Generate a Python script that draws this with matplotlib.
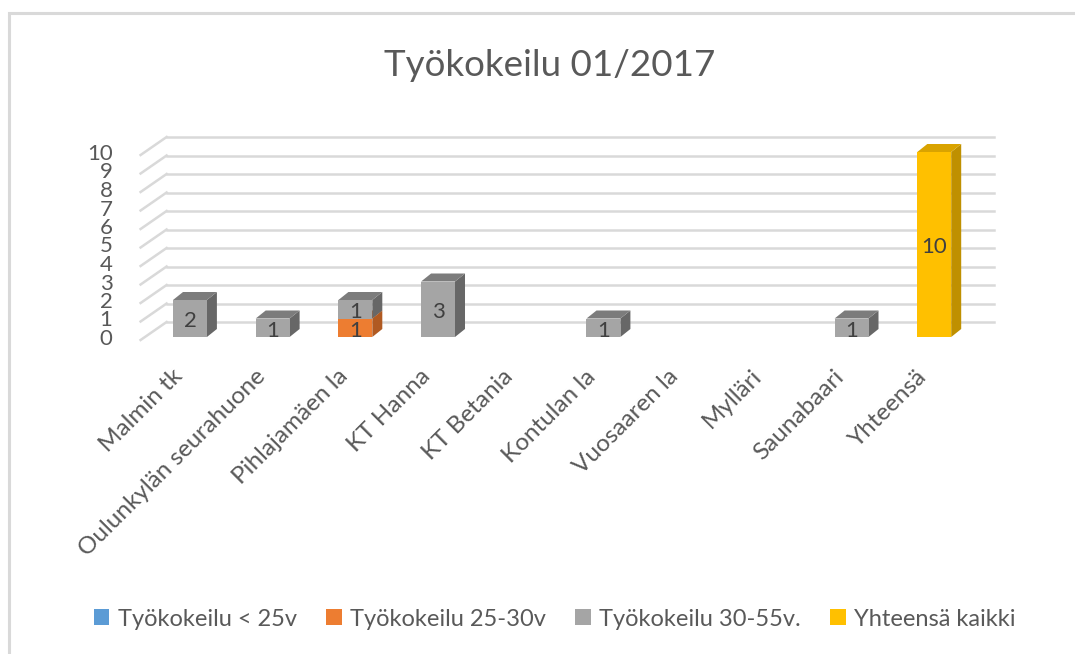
import matplotlib
matplotlib.use("Agg")
import matplotlib.pyplot as plt
import matplotlib.transforms as mtransforms
from matplotlib.patches import Polygon, Rectangle, Patch
import numpy as np

plt.rcParams['font.family'] = ['Lato', 'DejaVu Sans']

# Data
categories = ["Malmin tk", "Oulunkylän seurahuone", "Pihlajamäen la", "KT Hanna",
              "KT Betania", "Kontulan la", "Vuosaaren la", "Mylläri", "Saunabaari", "Yhteensä"]
series_names = ["Työkokeilu < 25v", "Työkokeilu 25-30v", "Työkokeilu 30-55v.", "Yhteensä kaikki"]
alle_25 = [0, 0, 0, 0, 0, 0, 0, 0, 0, 0]
v_25_30 = [0, 0, 1, 0, 0, 0, 0, 0, 0, 0]
v_30_55 = [2, 1, 1, 3, 0, 1, 0, 0, 1, 0]
yhteensa = [0, 0, 0, 0, 0, 0, 0, 0, 0, 10]
y_ticks = list(range(0, 11))

front_cols = ["#5B9BD5", "#ED7D31", "#A5A5A5", "#FFC000"]
top_cols = ["#4A80B0", "#C8692A", "#7C7C7C", "#D9A300"]
side_cols = ["#3F6E99", "#B05A22", "#676767", "#BF9000"]
text_col = "#595959"

W, H = 1075, 654
fig = plt.figure(figsize=(W / 100, H / 100), dpi=100)
# axes = front plane of the bars (pixel layout of the reference)
left_px, right_px, base_px, top_px = 148.6, 975.6, 337, 152
ax = fig.add_axes([left_px / W, (H - base_px) / H, (right_px - left_px) / W, (base_px - top_px) / H])
n = len(categories)
ax.set_xlim(-0.5, n - 0.5)
ax.set_ylim(0, 10)
for s in ax.spines.values():
    s.set_visible(False)

px_x = ax.bbox.width / n      # pixels per x unit
px_y = ax.bbox.height / 10    # pixels per y unit


def dx(p):
    return p / px_x


def dy(p):
    return p / px_y


# back wall gridlines + left wall diagonals
grid_col = "#D9D9D9"
for v in y_ticks:
    bx0, by = -0.5 + dx(18), v + dy(15)
    ax.plot([bx0, n - 0.5 + dx(18)], [by, by], color=grid_col, lw=1.8, clip_on=False, zorder=0)
    ax.plot([-0.5 - dx(8), bx0], [v - dy(3), by], color=grid_col, lw=1.8, clip_on=False, zorder=0)

# faux 3D stacked bars
x = np.arange(n)
bw = 0.41
ddx, ddy = dx(10), dy(8)
stack = [alle_25, v_25_30, v_30_55, yhteensa]
bottom = np.zeros(n)
for si, vals in enumerate(stack):
    vals = np.array(vals, dtype=float)
    for i in range(n):
        if vals[i] <= 0:
            continue
        x0, x1 = x[i] - bw / 2, x[i] + bw / 2
        y0, y1 = bottom[i], bottom[i] + vals[i]
        ax.add_patch(Polygon([[x1, y0], [x1 + ddx, y0 + ddy], [x1 + ddx, y1 + ddy], [x1, y1]],
                             closed=True, facecolor=side_cols[si], edgecolor="none",
                             clip_on=False, zorder=2))
        ax.add_patch(Polygon([[x0, y1], [x1, y1], [x1 + ddx, y1 + ddy], [x0 + ddx, y1 + ddy]],
                             closed=True, facecolor=top_cols[si], edgecolor="none",
                             clip_on=False, zorder=2))
        ax.add_patch(Rectangle((x0, y0), bw, vals[i], facecolor=front_cols[si],
                               edgecolor="none", clip_on=False, zorder=3))
        ax.text(x[i], (y0 + y1) / 2 - 0.15, f"{int(vals[i])}", ha="center", va="center",
                fontsize=16, color="#404040", zorder=4, clip_on=True)
    bottom += vals

# axis labels
ax.set_yticks(y_ticks)
ax.set_yticklabels([str(v) for v in y_ticks], fontsize=16, color=text_col)
ax.tick_params(axis="y", length=0, pad=26)
ax.set_xticks(x)
ax.set_xticklabels(categories, rotation=45, ha="right", va="center",
                   rotation_mode="anchor", fontsize=17.5, color=text_col)
ax.tick_params(axis="x", length=0, pad=26)
shift = mtransforms.ScaledTranslation(-11 / 100, 0, fig.dpi_scale_trans)
for lbl in ax.get_xticklabels():
    lbl.set_transform(lbl.get_transform() + shift)

fig.text(0.511, 1 - 65 / H, "Työkokeilu 01/2017", ha="center", va="center",
         fontsize=26.5, color=text_col)

handles = [Patch(facecolor=c, edgecolor="none") for c in front_cols]
fig.legend(handles, series_names, loc="center", bbox_to_anchor=(0.516, 1 - 619 / H),
           ncol=4, frameon=False, fontsize=17, handlelength=0.65, handleheight=0.65,
           handletextpad=0.35, columnspacing=1.25, labelcolor=text_col)

# chart frame (only left and top edges visible in the reference)
fig.add_artist(Rectangle((9 / W, -0.1), 1.2, 1.1 - 13 / H, transform=fig.transFigure,
                         fill=False, edgecolor="#D9D9D9", lw=2.2))

fig.savefig("out.png", dpi=100)
